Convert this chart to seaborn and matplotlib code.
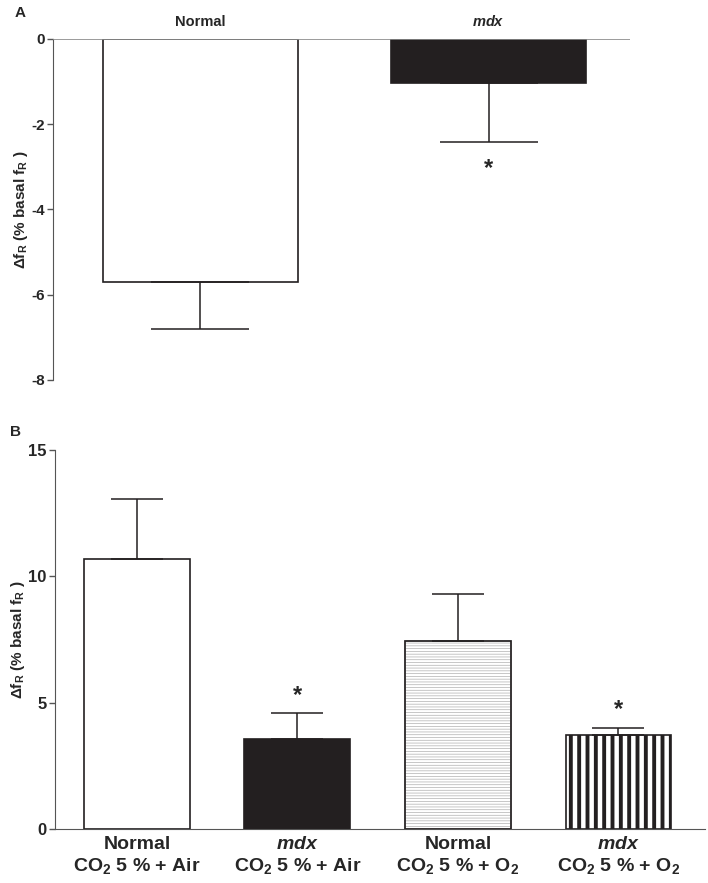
import numpy as np
import pandas as pd
import seaborn as sns
import matplotlib.pyplot as plt
from matplotlib.patches import Rectangle

# Panel A data
groups_a = ['Normal', 'mdx']
labels_a = ['Normal', '$\\mathit{mdx}$']
means_a = [-5.71, -1.03]
sem_a = [1.09, 1.38]
colors_a = ['white', '#231f20']
signif_a = [False, True]

# Panel B data
groups_b = ['Normal Air', 'mdx Air', 'Normal O2', 'mdx O2']
labels_b = ['Normal\nCO$_2$ 5 % + Air', '$\\mathit{mdx}$\nCO$_2$ 5 % + Air',
            'Normal\nCO$_2$ 5 % + O$_2$', '$\\mathit{mdx}$\nCO$_2$ 5 % + O$_2$']
means_b = [10.68, 3.56, 7.45, 3.71]
sem_b = [2.37, 1.02, 1.83, 0.29]
colors_b = ['white', '#231f20', 'white', 'white']
signif_b = [False, True, False, True]

sns.set_style('ticks')
plt.rcParams['font.family'] = ['Liberation Sans', 'DejaVu Sans']
plt.rcParams['font.weight'] = 'bold'
plt.rcParams['mathtext.fontset'] = 'custom'
plt.rcParams['mathtext.rm'] = 'Liberation Sans:bold'
plt.rcParams['mathtext.bf'] = 'Liberation Sans:bold'
plt.rcParams['mathtext.it'] = 'Liberation Sans:italic:bold'
plt.rcParams['mathtext.default'] = 'rm'
plt.rcParams['axes.unicode_minus'] = False

ylab = '$\\Delta$f$_R$ (% basal f$_R$ )'

fig = plt.figure(figsize=(7.08, 8.83), dpi=100)
ax_a = fig.add_axes([0.0749, 0.5697, 0.8151, 0.3862])
ax_b = fig.add_axes([0.0777, 0.0612, 0.9183, 0.4292])

# ---- Panel A ----
df_a = pd.DataFrame({'group': groups_a, 'mean': means_a, 'sem': sem_a})
sns.barplot(data=df_a, x='group', y='mean', hue='group', palette=colors_a,
            order=groups_a, hue_order=groups_a, legend=False, errorbar=None,
            width=0.675, edgecolor='#231f20', linewidth=1.2, saturation=1, ax=ax_a)
xa = np.arange(len(groups_a))
ax_a.errorbar(xa, means_a, yerr=[sem_a, np.zeros(len(sem_a))], fmt='none',
              ecolor='#231f20', elinewidth=1.1, capsize=35, capthick=1.1, zorder=1)
for i, s in enumerate(signif_a):
    if s:
        ax_a.annotate('*', (xa[i], means_a[i] - sem_a[i]), xytext=(0, -19),
                      textcoords='offset points', ha='center', va='center',
                      fontsize=17, fontweight='bold')
ax_a.axhline(0, color='#8a8a8a', lw=1.2, zorder=5)
ax_a.set_xlim(-0.51, 1.49)
ax_a.set_ylim(-8, 0)
ax_a.set_yticks([0, -2, -4, -6, -8])
ax_a.set_yticklabels(['0', '-2', '-4', '-6', '-8'])
ax_a.xaxis.tick_top()
ax_a.set_xticks(xa)
ax_a.set_xticklabels(labels_a)
ax_a.tick_params(axis='x', length=0, pad=7, labelsize=10.5)
ax_a.tick_params(axis='y', length=4, width=1, labelsize=11, color='#555555', pad=2)
sns.despine(ax=ax_a, top=True, right=True, bottom=True)
ax_a.spines['left'].set_color('#555555')
ax_a.set_xlabel('')
ax_a.set_ylabel(ylab, fontsize=11, fontweight='bold', labelpad=1)

# ---- Panel B ----
df_b = pd.DataFrame({'group': groups_b, 'mean': means_b, 'sem': sem_b})
sns.barplot(data=df_b, x='group', y='mean', hue='group', palette=colors_b,
            order=groups_b, hue_order=groups_b, legend=False, errorbar=None,
            width=0.66, edgecolor='#231f20', linewidth=1.2, saturation=1, ax=ax_b)
xb = np.arange(len(groups_b))
ax_b.errorbar(xb, means_b, yerr=[np.zeros(len(sem_b)), sem_b], fmt='none',
              ecolor='#231f20', elinewidth=1.1, capsize=19, capthick=1.1, zorder=1)
for i, s in enumerate(signif_b):
    if s:
        ax_b.annotate('*', (xb[i], means_b[i] + sem_b[i]), xytext=(0, 13),
                      textcoords='offset points', ha='center', va='center',
                      fontsize=17, fontweight='bold')

bars = ax_b.patches
# horizontal grey lines on Normal O2
p = bars[2]
p.set_edgecolor('#b0b0b0')
p.set_hatch('------')
if hasattr(p, 'set_hatch_linewidth'):
    p.set_hatch_linewidth(0.5)
ax_b.add_patch(Rectangle(p.get_xy(), p.get_width(), p.get_height(), fill=False,
                         edgecolor='#231f20', lw=1.2, zorder=3))
# vertical black stripes on mdx O2
p = bars[3]
p.set_hatch('||')
if hasattr(p, 'set_hatch_linewidth'):
    p.set_hatch_linewidth(2.8)

ax_b.set_xlim(-0.51, 3.54)
ax_b.set_ylim(0, 15)
ax_b.set_yticks([0, 5, 10, 15])
ax_b.set_xticks(xb)
ax_b.set_xticklabels(labels_b, fontsize=14, linespacing=1.2)
ax_b.tick_params(axis='x', length=0, pad=5)
ax_b.tick_params(axis='y', length=4, width=1, labelsize=12, color='#555555', pad=2)
sns.despine(ax=ax_b)
ax_b.spines['left'].set_color('#555555')
ax_b.spines['bottom'].set_color('#555555')
ax_b.set_xlabel('')
ax_b.set_ylabel(ylab, fontsize=11, fontweight='bold', labelpad=1)

fig.text(0.021, 0.985, 'A', fontsize=11, fontweight='bold', va='center')
fig.text(0.014, 0.511, 'B', fontsize=11, fontweight='bold', va='center')

fig.savefig('out.png', dpi=100)
